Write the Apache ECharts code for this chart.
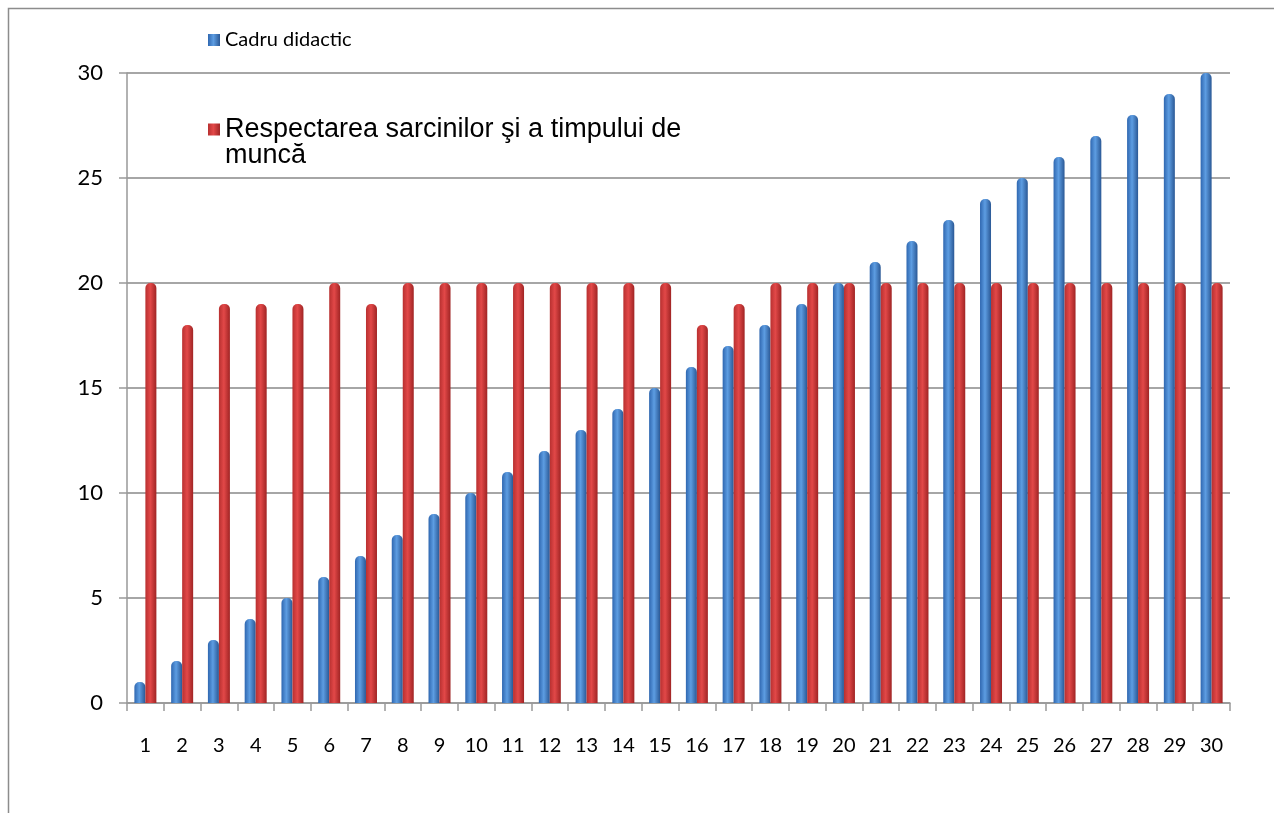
<!DOCTYPE html>
<html><head><meta charset="utf-8">
<script src="https://cdn.jsdelivr.net/npm/echarts@6/dist/echarts.min.js"></script>
<style>html,body{margin:0;padding:0;background:#fff}#c{width:1274px;height:814px}</style>
</head><body><div id="c"></div>
<script>
const categories = ['1','2','3','4','5','6','7','8','9','10','11','12','13','14','15','16','17','18','19','20','21','22','23','24','25','26','27','28','29','30'];
const seriesNames = ['Cadru didactic', 'Respectarea sarcinilor şi a timpului de muncă'];
const cadruDidactic = [1,2,3,4,5,6,7,8,9,10,11,12,13,14,15,16,17,18,19,20,21,22,23,24,25,26,27,28,29,30];
const respectarea = [20,18,19,19,19,20,19,20,20,20,20,20,20,20,20,18,19,20,20,20,20,20,20,20,20,20,20,20,20,20];

const chart = echarts.init(document.getElementById('c'), null, {renderer:'canvas'});
const grad = (a,b,c) => new echarts.graphic.LinearGradient(0,0,1,0,[{offset:0,color:a},{offset:0.45,color:b},{offset:1,color:c}]);
chart.setOption({
  animation:false,
  graphic:[{type:'polyline', shape:{points:[[8.5,813],[8.5,8.5],[1274,8.5]]}, style:{stroke:'#8c8c8c', lineWidth:1.5, fill:null}}],
  legend:[
    {left:203, top:25, itemWidth:12, itemHeight:12, itemGap:6, data:[{name:seriesNames[0], icon:'rect'}],
     textStyle:{fontFamily:'Lato, "Open Sans", sans-serif', fontSize:20, color:'#000'}},
    {left:203, top:85, itemWidth:12, itemHeight:12, itemGap:6, data:[{name:seriesNames[1], icon:'rect'}],
     formatter: n => ' \nRespectarea sarcinilor şi a timpului de\nmuncă',
     textStyle:{fontFamily:'"Liberation Sans", Arial, sans-serif', fontSize:27, color:'#000', lineHeight:26}}
  ],
  grid:{left:127, right:44, top:73, bottom:111, containLabel:false},
  xAxis:{type:'category', data:categories,
    axisLine:{lineStyle:{color:'#999', width:1.5}},
    axisTick:{show:true, length:8, lineStyle:{color:'#999', width:1.5}},
    axisLabel:{margin:33, fontFamily:'Lato, "Open Sans", sans-serif', fontSize:20, color:'#000'}},
  yAxis:{type:'value', min:0, max:30, interval:5,
    axisLine:{show:true, lineStyle:{color:'#999', width:1.5}},
    axisTick:{show:true, length:8, lineStyle:{color:'#999', width:1.5}},
    splitLine:{lineStyle:{color:'#a6a6a6', width:2}},
    axisLabel:{margin:24, fontFamily:'Lato, "Open Sans", sans-serif', fontSize:22, color:'#000'}},
  series:[
    {name:seriesNames[0], type:'bar', data:cadruDidactic, barWidth:11, barGap:'0%',
     itemStyle:{color:grad('#2f67b0','#5d9de2','#2a5895'), borderRadius:[5,5,0,0]}},
    {name:seriesNames[1], type:'bar', data:respectarea, barWidth:11, barGap:'0%',
     itemStyle:{color:grad('#b83030','#e24848','#a02424'), borderRadius:[5,5,0,0]}}
  ]
});
</script></body></html>
